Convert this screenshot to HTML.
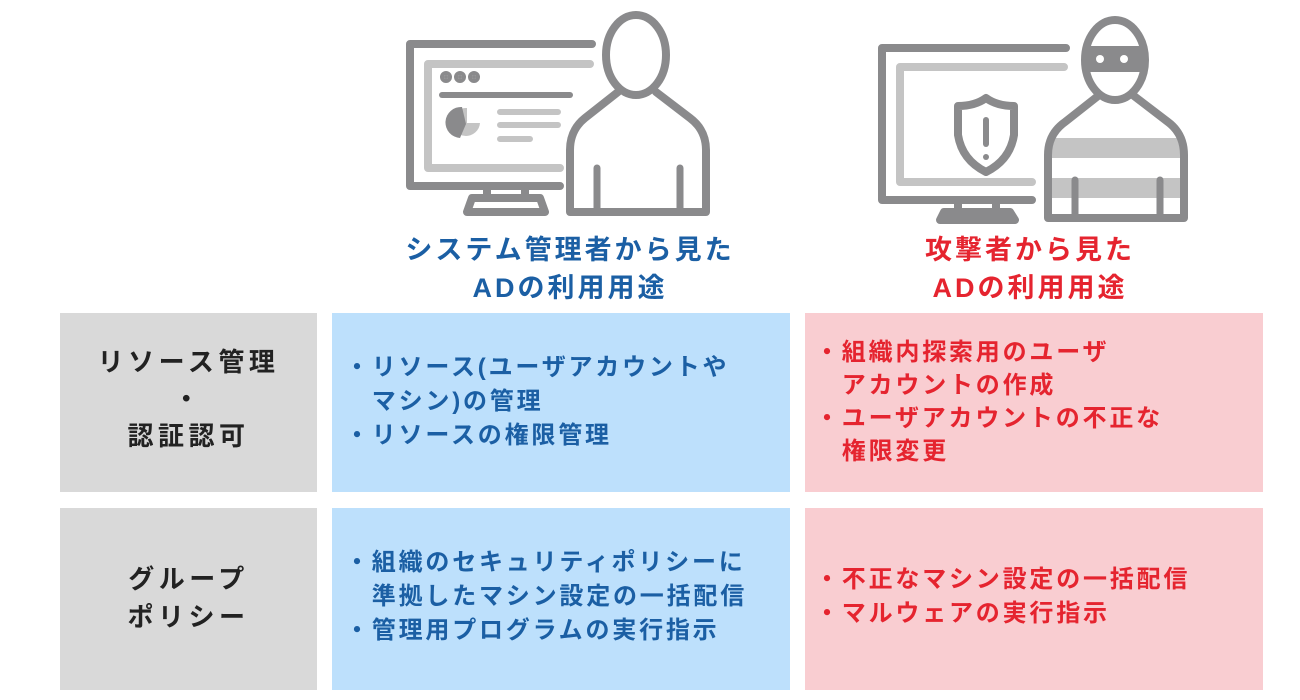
<!DOCTYPE html>
<html><head><meta charset="utf-8"><style>
body{margin:0;width:1300px;height:700px;background:#fff;position:relative;overflow:hidden;font-family:"Liberation Sans","Noto Sans CJK JP",sans-serif;font-weight:bold}
.b{position:absolute}
.g{background:#d9d9d9}.bl{background:#bde0fc}.rd{background:#f9cdd1}
.h{position:absolute;text-align:center;font-size:27px;letter-spacing:3px;line-height:38px}
.t{position:absolute;font-size:24px;letter-spacing:2.8px;line-height:34px;white-space:nowrap}
</style></head><body>
<svg class="b" style="left:0;top:0" width="1300" height="230" fill="none" stroke="#8a8a8c" stroke-width="8" stroke-linecap="round" stroke-linejoin="round">
<path d="M592 44 H410 V186 H560"/>
<path d="M590 64 H428 V168 H560" stroke="#c4c4c4"/>
<circle cx="446" cy="77" r="2" fill="#8a8a8c"/><circle cx="460" cy="77" r="2" fill="#8a8a8c"/><circle cx="474" cy="77" r="2" fill="#8a8a8c"/>
<path d="M442 95 H570" stroke-width="6"/>
<path d="M500 112 H558 M500 125 H558 M500 139 H530" stroke="#c4c4c4" stroke-width="6"/>
<path d="M467 108 A14 14 0 1 0 480 123 L467 123 Z" fill="#c4c4c4" stroke="none"/>
<path d="M462 107 A14 14 0 0 0 460 138 L466 124 Z" fill="#8a8a8c" stroke="none"/>
<path d="M487 186 V198 M525 186 V198"/>
<path d="M472 198 H540 L545 212 H467 Z"/>
<ellipse cx="636" cy="55" rx="30" ry="40"/>
<path d="M618 92 L585 118 Q570 130 570 150 V212 H706 V150 Q706 130 690 118 L656 92"/>
<path d="M597 168 V210 M680 168 V210" stroke-width="7"/>
<path d="M1066 48 H882 V200 H1032"/>
<path d="M1064 67 H900 V182 H1032" stroke="#c4c4c4"/>
<path d="M986 98 Q975 106 958 106 V135 Q962 160 986 172 Q1010 160 1014 135 V106 Q997 106 986 98 Z"/>
<path d="M986 120 V144" stroke-width="6"/><circle cx="986" cy="157" r="3" fill="#8a8a8c" stroke="none"/>
<path d="M958 200 V210 M996 200 V210"/>
<path d="M944 212 H1010 L1015 220 H940 Z"/>
<ellipse cx="1115" cy="60" rx="30" ry="40"/>
<path d="M1088 50 H1142 V68 H1088 Z" fill="#8a8a8c"/>
<circle cx="1100" cy="59" r="4" fill="#fff" stroke="none"/><circle cx="1124" cy="59" r="4" fill="#fff" stroke="none"/>
<rect x="1048" y="138" width="136" height="20" fill="#c4c4c4" stroke="none"/>
<rect x="1048" y="178" width="136" height="20" fill="#c4c4c4" stroke="none"/>
<path d="M1098 96 L1065 122 Q1048 134 1048 155 V218 H1184 V155 Q1184 134 1168 122 L1134 96"/>
<path d="M1075 180 V216 M1160 180 V216" stroke-width="7"/>
</svg>
<div class="h" style="left:340px;width:460px;top:231px;color:#1b5fa4">システム管理者から見た<br>ADの利用用途</div>
<div class="h" style="left:810px;width:440px;top:231px;color:#e5242f">攻撃者から見た<br>ADの利用用途</div>
<div class="b g" style="left:60px;top:313px;width:257px;height:179px"></div>
<div class="b bl" style="left:332px;top:313px;width:458px;height:179px"></div>
<div class="b rd" style="left:805px;top:313px;width:458px;height:179px"></div>
<div class="b g" style="left:60px;top:508px;width:257px;height:182px"></div>
<div class="b bl" style="left:332px;top:508px;width:458px;height:182px"></div>
<div class="b rd" style="left:805px;top:508px;width:458px;height:182px"></div>
<div class="t" style="left:60px;width:257px;top:344px;text-align:center;color:#222;font-size:26px;letter-spacing:4.5px;line-height:37px">リソース管理<br>・<br>認証認可</div>
<div class="t" style="left:60px;width:257px;top:560px;text-align:center;color:#222;font-size:26px;letter-spacing:4.5px;line-height:38px">グループ<br>ポリシー</div>
<div class="t" style="left:345px;top:351px;color:#1b5fa4">・リソース(ユーザアカウントや<br>　マシン)の管理<br>・リソースの権限管理</div>
<div class="t" style="left:345px;top:546px;color:#1b5fa4">・組織のセキュリティポリシーに<br>　準拠したマシン設定の一括配信<br>・管理用プログラムの実行指示</div>
<div class="t" style="left:815px;top:336px;color:#e5242f;line-height:33px">・組織内探索用のユーザ<br>　アカウントの作成<br>・ユーザアカウントの不正な<br>　権限変更</div>
<div class="t" style="left:815px;top:563px;color:#e5242f">・不正なマシン設定の一括配信<br>・マルウェアの実行指示</div>
</body></html>
